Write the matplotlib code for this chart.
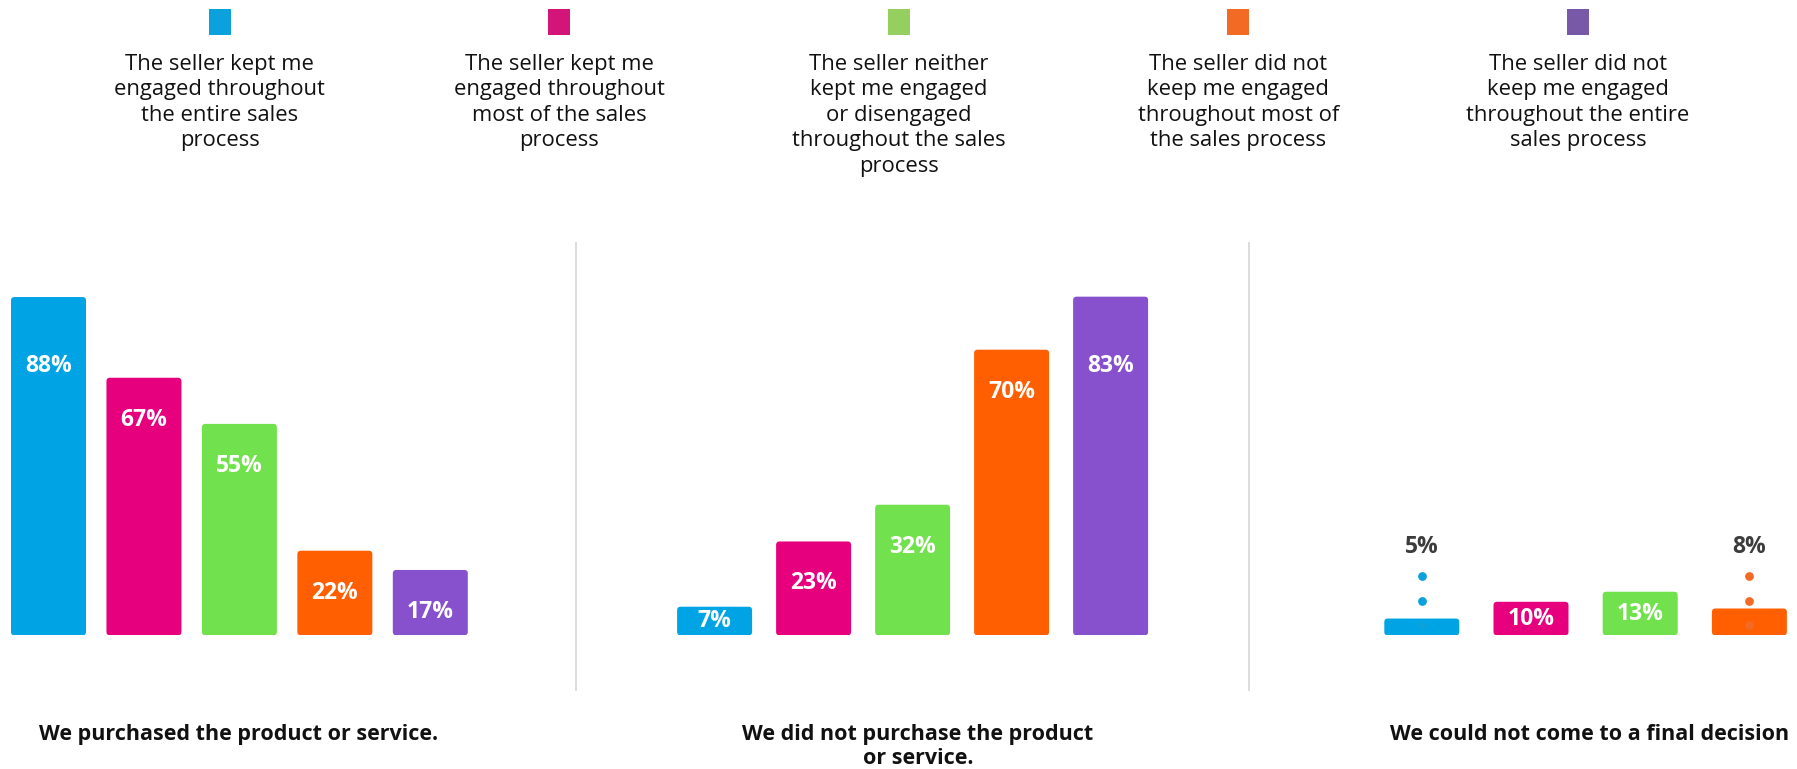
import matplotlib
matplotlib.use("Agg")
import matplotlib.pyplot as plt
from matplotlib.patches import Rectangle, FancyBboxPatch
from matplotlib.lines import Line2D

# Data
series_labels = [
    "The seller kept me\nengaged throughout\nthe entire sales\nprocess",
    "The seller kept me\nengaged throughout\nmost of the sales\nprocess",
    "The seller neither\nkept me engaged\nor disengaged\nthroughout the sales\nprocess",
    "The seller did not\nkeep me engaged\nthroughout most of\nthe sales process",
    "The seller did not\nkeep me engaged\nthroughout the entire\nsales process",
]
outcome_labels = [
    "We purchased the product or service.",
    "We did not purchase the product\nor service.",
    "We could not come to a final decision",
]
purchased = [88, 67, 55, 22, 17]
not_purchased = [7, 23, 32, 70, 83]
no_decision = [5, 10, 13, 8]  # last series is cut off at the right edge

legend_colors = ["#0BA1DD", "#D31478", "#94CF60", "#F26A24", "#7759A8"]
bar_colors = ["#00A4E4", "#E6007E", "#72E14E", "#FF5F00", "#8750CC"]

plt.rcParams["font.family"] = ["Open Sans", "DejaVu Sans"]

W, H, DPI = 1797, 769, 100
fig = plt.figure(figsize=(W / DPI, H / DPI), dpi=DPI)
fig.patch.set_facecolor("white")

BASE = 635.3   # bar baseline, px from top
TOP = 243.0    # top of plot area, px from top
LABEL_CAP = 366.0
panels = [
    # values, first bar centre px, bar step px, px per percent
    (purchased, 48.5, 95.45, 3.844),
    (not_purchased, 714.6, 99.0, 4.08),
    (no_decision, 1421.8, 109.2, 3.35),
]

for vals, c0, step, ppp in panels:
    left = c0 - 0.5 * step
    ax = fig.add_axes([left / W, (H - BASE) / H, 5 * step / W, (BASE - TOP) / H])
    ax.set_xlim(-0.5, 4.5)
    ax.set_ylim(0, (BASE - TOP) / ppp)
    ax.axis("off")
    xs = list(range(len(vals)))
    bars = ax.bar(xs, vals, width=75 / step, color=bar_colors[:len(vals)], zorder=2)
    # swap plain rectangles for slightly rounded ones
    for b in bars:
        rb = FancyBboxPatch((b.get_x(), b.get_y()), b.get_width(), b.get_height(),
                            boxstyle=f"round,pad=0,rounding_size={3.5 / step}",
                            mutation_aspect=step / ppp,
                            fc=b.get_facecolor(), ec="none", zorder=2)
        ax.add_patch(rb)
        b.set_visible(False)
    for i, v in enumerate(vals):
        h = v * ppp
        if h < 28:
            # too short: label above the bar with a dotted leader
            ax.text(i, 88.3 / ppp, f"{v}%", ha="center", va="center",
                    color="#3C3C3C", fontsize=16.5, fontweight="bold", zorder=4)
            ax.plot([i] * 3, [59.3 / ppp, 34.8 / ppp, 10.3 / ppp], "o", ms=6.3,
                    color=legend_colors[i], mec="none", zorder=3)
        else:
            y = h / 2 if h < 62 else min(h - 42, BASE - LABEL_CAP)
            ax.text(i, y / ppp, f"{v}%", ha="center", va="center",
                    color="white", fontsize=16.5, fontweight="bold", zorder=4)

# Divider lines between panels
for xd in [575.7, 1248.7]:
    fig.add_artist(Line2D([xd / W, xd / W], [(H - 242.7) / H, (H - 690) / H],
                          color="#D9D9D9", lw=1.3))

# Legend across the top
for k, (lab, col) in enumerate(zip(series_labels, legend_colors)):
    cx = 219.5 + k * 339.6
    fig.add_artist(Rectangle(((cx - 11) / W, (H - 35) / H), 22 / W, 26 / H,
                             transform=fig.transFigure, color=col, lw=0))
    fig.text(cx / W, (H - 54) / H, lab, ha="center", va="top",
             fontsize=15.8, color="#111111", linespacing=1.28)

# Outcome labels under each panel
for cx, lab in zip([239, 918, 1590], outcome_labels):
    fig.text(cx / W, (H - 724) / H, lab, ha="center", va="top",
             fontsize=15.5, fontweight="bold", color="#111111", linespacing=1.2)

fig.savefig("out.png", dpi=DPI, facecolor="white")
